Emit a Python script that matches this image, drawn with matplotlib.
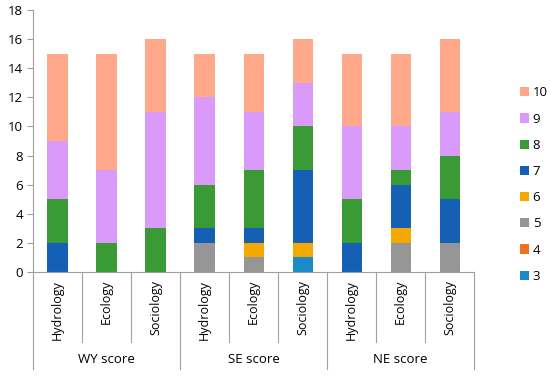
import matplotlib

matplotlib.use("Agg")

import matplotlib.pyplot as plt
import numpy as np

plt.rcParams["font.family"] = ["Open Sans", "DejaVu Sans"]

groups = ["WY score", "SE score", "NE score"]
disciplines = ["Hydrology", "Ecology", "Sociology"]
scores = ["3", "4", "5", "6", "7", "8", "9", "10"]

# counts per score, bars in order WY(H,E,S), SE(H,E,S), NE(H,E,S)
score_3 = [0, 0, 0, 0, 0, 1, 0, 0, 0]
score_4 = [0, 0, 0, 0, 0, 0, 0, 0, 0]
score_5 = [0, 0, 0, 2, 1, 0, 0, 2, 2]
score_6 = [0, 0, 0, 0, 1, 1, 0, 1, 0]
score_7 = [2, 0, 0, 1, 1, 5, 2, 3, 3]
score_8 = [3, 2, 3, 3, 4, 3, 3, 1, 3]
score_9 = [4, 5, 8, 6, 4, 3, 5, 3, 3]
score_10 = [6, 8, 5, 3, 4, 3, 5, 5, 5]

series = [score_3, score_4, score_5, score_6, score_7, score_8, score_9, score_10]
colors = ["#1b8bc8", "#f07020", "#969696", "#f5a800", "#1560b5", "#3a9a35", "#d99af9", "#ffa88a"]

fig = plt.figure(figsize=(5.5, 3.76), dpi=100)
ax = fig.add_axes([0.06, 0.277, 0.802, 0.696])

x = np.arange(len(groups) * len(disciplines))
bottom = np.zeros(len(x))
handles = []
for label, vals, col in zip(scores, series, colors):
    vals = np.array(vals, dtype=float)
    h = ax.bar(x, vals, width=0.41, bottom=bottom, color=col, label=label)
    handles.append(h)
    bottom += vals

ax.set_xlim(-0.5, len(x) - 0.5)
ax.set_ylim(0, 18)
ax.set_yticks(range(0, 19, 2))
ax.set_xticks([])
for side in ["top", "right"]:
    ax.spines[side].set_visible(False)
ax.spines["left"].set_color("#a0a0a0")
ax.spines["bottom"].set_color("#a0a0a0")
ax.tick_params(axis="y", length=4, color="#a0a0a0", labelsize=9.5, pad=3)

# category labels and separators under the axis
trans = ax.get_xaxis_transform()
for i in x:
    ax.text(i, -0.03, disciplines[i % 3], rotation=90, ha="center", va="top",
            fontsize=9, transform=trans)
for i in range(len(x) + 1):
    depth = -0.37 if i % 3 == 0 else -0.267
    ax.plot([i - 0.5, i - 0.5], [0, depth], color="#a0a0a0", lw=0.8,
            transform=trans, clip_on=False)
for g, name in enumerate(groups):
    ax.text(g * 3 + 1, -0.336, name, ha="center", va="center", fontsize=9.5,
            transform=trans)

fig.legend(handles[::-1], scores[::-1], loc="center left", bbox_to_anchor=(0.935, 0.509),
           frameon=False, fontsize=9.5, handlelength=0.7, handleheight=0.7,
           handletextpad=0.3, labelspacing=1.0, borderaxespad=0)

fig.savefig("out.png", dpi=100)
